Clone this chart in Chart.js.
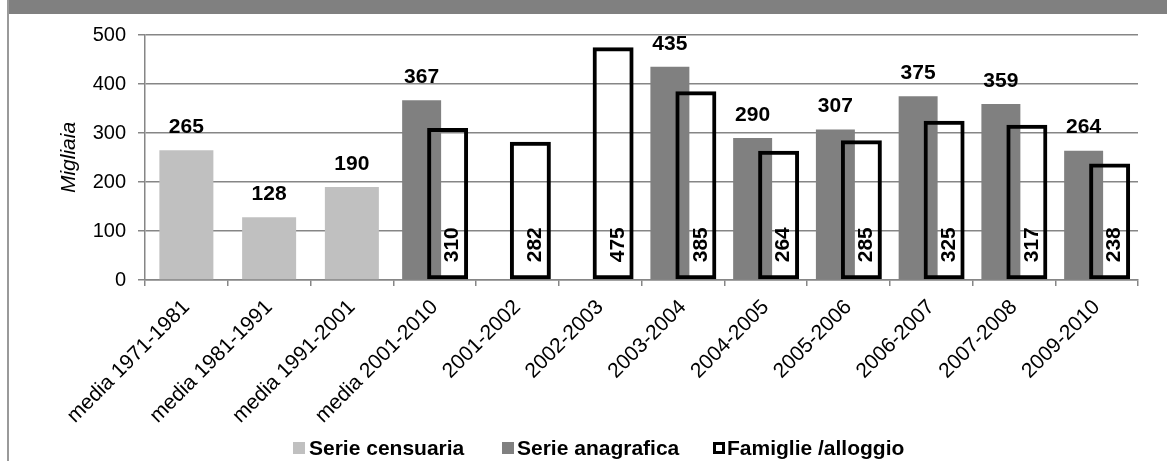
<!DOCTYPE html>
<html>
<head>
<meta charset="utf-8">
<script src="https://cdn.jsdelivr.net/npm/chart.js@4.4.1/dist/chart.umd.min.js"></script>
<style>
  html, body { margin: 0; padding: 0; background: #fff; }
  #wrap { position: relative; width: 1171px; height: 461px; overflow: hidden; font-family: 'Liberation Sans', Arial, sans-serif; }
  #band { position: absolute; left: 8px; top: 0; width: 1159px; height: 14px; background: #808080; }
  #edge { position: absolute; left: 7px; top: 0; width: 2px; height: 461px; background: #9a9a9a; }
  #box { position: absolute; left: 0; top: 0; width: 1171px; height: 461px; }
  .leg { position: absolute; top: 437px; height: 21px; line-height: 21px; font-size: 21px; font-weight: bold; color: #000; white-space: nowrap; }
  .leg i { position: absolute; left: 0; top: 5px; width: 12px; height: 12px; box-sizing: border-box; }
</style>
</head>
<body>
<div id="wrap">
  <div id="band"></div>
  <div id="edge"></div>
  <div id="box"><canvas id="chart"></canvas></div>
  <div class="leg" style="left:293px"><i style="background:#c0c0c0"></i><span style="margin-left:16px">Serie censuaria</span></div>
  <div class="leg" style="left:502px"><i style="background:#808080"></i><span style="margin-left:15px">Serie anagrafica</span></div>
  <div class="leg" style="left:713px"><i style="background:#fff;border:3px solid #000"></i><span style="margin-left:14px">Famiglie /alloggio</span></div>
</div>
<script>
// ── Data (thousands) ──
const categories = ['media 1971-1981', 'media 1981-1991', 'media 1991-2001', 'media 2001-2010',
    '2001-2002', '2002-2003', '2003-2004', '2004-2005', '2005-2006', '2006-2007', '2007-2008', '2009-2010'];
const censuaria  = [265, 128, 190, null, null, null, null, null, null, null, null, null];
const anagrafica = [null, null, null, 367, null, null, 435, 290, 307, 375, 359, 264];
const famiglie   = [null, null, null, 310, 282, 475, 385, 264, 285, 325, 317, 238];
const yMin = 0, yMax = 500, yStep = 100;

Chart.defaults.font.family = "'Liberation Sans', Arial, sans-serif";
Chart.defaults.color = '#000';

const GRID = '#868686';

// famiglie is drawn after the others (its border sits on the grey bars), then the value labels
const barLabels = {
    id: 'barLabels',
    beforeDatasetDraw(chart, args) { if (args.index === 2) return false; },
    afterDatasetsDraw(chart) {
        chart.getDatasetMeta(2).controller.draw();
        const ctx = chart.ctx;
        ctx.save();
        ctx.fillStyle = '#000';
        ctx.font = "bold 21px 'Liberation Sans', Arial, sans-serif";
        [0, 1].forEach(di => {
            const vals = chart.data.datasets[di].data;
            chart.getDatasetMeta(di).data.forEach((bar, i) => {
                if (vals[i] == null) return;
                ctx.textAlign = 'center'; ctx.textBaseline = 'middle';
                ctx.fillText(vals[i], bar.x, bar.y - 23);
            });
        });
        const fam = chart.data.datasets[2].data;
        chart.getDatasetMeta(2).data.forEach((bar, i) => {
            if (fam[i] == null) return;
            ctx.save();
            ctx.translate(bar.x + 5, bar.base - 17);
            ctx.rotate(-Math.PI / 2);
            ctx.textAlign = 'left'; ctx.textBaseline = 'middle';
            ctx.fillText(fam[i], 0, 0);
            ctx.restore();
        });
        ctx.restore();
    }
};

new Chart(document.getElementById('chart'), {
    type: 'bar',
    data: {
        labels: categories,
        datasets: [
            { label: 'Serie censuaria', data: censuaria, grouped: false, backgroundColor: '#c0c0c0',
              categoryPercentage: 1, barPercentage: 0.6526 },
            { label: 'Serie anagrafica', data: anagrafica, stack: 'a', backgroundColor: '#808080',
              categoryPercentage: 0.628, barPercentage: 1.5 },
            { label: 'Famiglie /alloggio', data: famiglie, stack: 'b', backgroundColor: 'rgba(0,0,0,0)',
              borderColor: '#000', borderWidth: 4, borderSkipped: false, categoryPercentage: 0.628, barPercentage: 1.577 }
        ]
    },
    options: {
        responsive: true, maintainAspectRatio: false, animation: false,
        layout: { padding: { top: 35, right: 33, left: 0, bottom: 0 } },
        plugins: { legend: { display: false }, tooltip: { enabled: false } },
        scales: {
            x: {
                offset: true,
                grid: { offset: true, drawOnChartArea: false, drawTicks: true, tickLength: 6, color: GRID, lineWidth: 1.5 },
                border: { color: GRID, width: 1.5 },
                ticks: { minRotation: 45, maxRotation: 45, autoSkip: false, font: { size: 21 }, padding: 9 },
                afterFit: s => { s.height = 181; }
            },
            y: {
                min: yMin, max: yMax,
                ticks: { stepSize: yStep, font: { size: 20 }, padding: 12 },
                grid: { color: GRID, lineWidth: 1.5, tickLength: 7 },
                border: { color: GRID, width: 1.5 },
                title: { display: true, text: 'Migliaia', font: { size: 21, style: 'italic', lineHeight: 1.2 }, padding: { top: 57, bottom: 0 } },
                afterFit: s => { s.width = 145; }
            }
        }
    },
    plugins: [barLabels]
});
</script>
</body>
</html>
